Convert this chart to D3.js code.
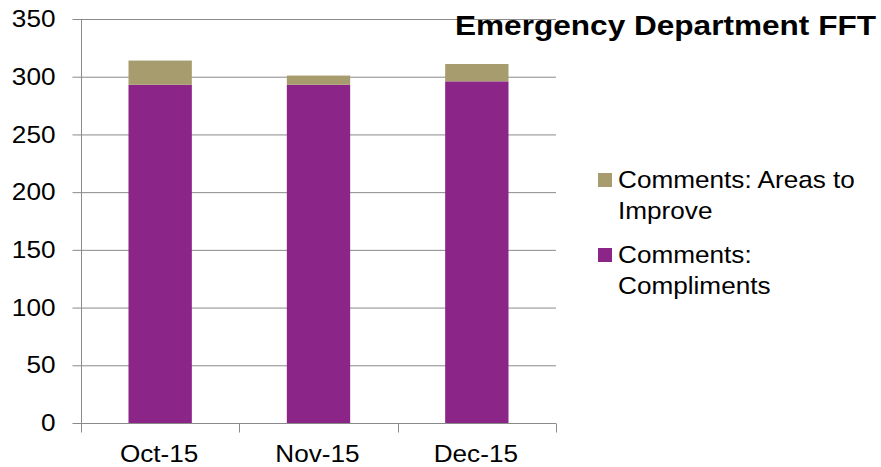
<!DOCTYPE html>
<html>
<head>
<meta charset="utf-8">
<script src="https://cdn.jsdelivr.net/npm/d3@7/dist/d3.min.js"></script>
<style>
  html, body { margin: 0; padding: 0; background: #ffffff; }
  svg text { font-family: "Liberation Sans", Arial, sans-serif; fill: #000; }
</style>
</head>
<body>
<svg id="chart" width="881" height="467"></svg>
<script>
// Monthly Friends & Family Test comments, Emergency Department
const months = ["Oct-15", "Nov-15", "Dec-15"];
const compliments = [293, 293, 296];
const areasToImprove = [21, 8, 15];
const seriesNames = ["Comments: Compliments", "Comments: Areas to Improve"];
const seriesColors = ["#8C2588", "#A79C6E"];
const yTicks = [0, 50, 100, 150, 200, 250, 300, 350];
const chartTitle = "Emergency Department FFT";

const svg = d3.select("#chart");
const plot = { left: 81, right: 556, top: 19, bottom: 423 };
const gridColor = "#8a8a8a";
const fontSize = 24;
const stretch = 1.09; // body text is set slightly wide

const x = d3.scaleBand().domain(months).range([plot.left, plot.right]).paddingInner(0.6).paddingOuter(0.3);
const xBand = d3.scaleBand().domain(months).range([plot.left, plot.right]);
const y = d3.scaleLinear().domain([0, 350]).range([plot.bottom, plot.top]);

// horizontal gridlines
svg.append("g")
  .selectAll("line")
  .data(yTicks.filter(d => d > 0))
  .join("line")
  .attr("x1", plot.left).attr("x2", plot.right)
  .attr("y1", d => y(d) + 0.5).attr("y2", d => y(d) + 0.5)
  .attr("stroke", gridColor).attr("stroke-width", 1);

// stacked bars
const rows = months.map((m, i) => ({ month: m, compliments: compliments[i], improve: areasToImprove[i] }));
const stack = d3.stack().keys(["compliments", "improve"])(rows);
svg.append("g")
  .selectAll("g")
  .data(stack)
  .join("g")
  .attr("fill", (d, i) => seriesColors[i])
  .selectAll("rect")
  .data(d => d)
  .join("rect")
  .attr("x", d => x(d.data.month))
  .attr("width", x.bandwidth())
  .attr("y", d => y(d[1]))
  .attr("height", d => y(d[0]) - y(d[1]));

// y axis
const yAxis = svg.append("g")
  .attr("transform", `translate(${plot.left + 0.5},0)`)
  .call(d3.axisLeft(y).tickValues(yTicks).tickSize(9));
yAxis.selectAll("path, line").attr("stroke", gridColor);
yAxis.select(".domain").attr("d", `M0,${plot.top}V${plot.bottom}`);
yAxis.selectAll("text")
  .style("font-size", fontSize + "px")
  .attr("fill", "#000")
  .attr("x", -26 / stretch)
  .attr("transform", `scale(${stretch},1)`);

// x axis with ticks at category boundaries
const xAxis = svg.append("g").attr("transform", `translate(0,${plot.bottom + 0.5})`);
xAxis.append("line")
  .attr("x1", plot.left).attr("x2", plot.right)
  .attr("stroke", gridColor);
const boundaries = months.map(m => xBand(m)).concat([plot.right]);
xAxis.selectAll("line.tick")
  .data(boundaries)
  .join("line")
  .attr("class", "tick")
  .attr("x1", d => Math.round(d) + 0.5).attr("x2", d => Math.round(d) + 0.5)
  .attr("y1", 0).attr("y2", 9)
  .attr("stroke", gridColor);
xAxis.selectAll("text")
  .data(months)
  .join("text")
  .attr("transform", d => `translate(${xBand(d) + xBand.bandwidth() / 2 - 1},38.5) scale(${stretch},1)`)
  .attr("text-anchor", "middle")
  .style("font-size", fontSize + "px")
  .text(d => d);

// title
svg.append("text")
  .attr("x", 455).attr("y", 35)
  .attr("textLength", 421)
  .attr("lengthAdjust", "spacingAndGlyphs")
  .style("font-size", "27px").style("font-weight", "bold")
  .text(chartTitle);

// legend (areas to improve listed first)
const legendItems = [
  { color: seriesColors[1], lines: ["Comments: Areas to", "Improve"], y: 173 },
  { color: seriesColors[0], lines: ["Comments:", "Compliments"], y: 248 }
];
const legend = svg.append("g");
legendItems.forEach(item => {
  legend.append("rect")
    .attr("x", 598).attr("y", item.y)
    .attr("width", 14).attr("height", 14)
    .attr("fill", item.color);
  item.lines.forEach((ln, j) => {
    legend.append("text")
      .attr("transform", `translate(618,${item.y + 14.5 + j * 31}) scale(${stretch},1)`)
      .style("font-size", fontSize + "px")
      .text(ln);
  });
});
</script>
</body>
</html>
